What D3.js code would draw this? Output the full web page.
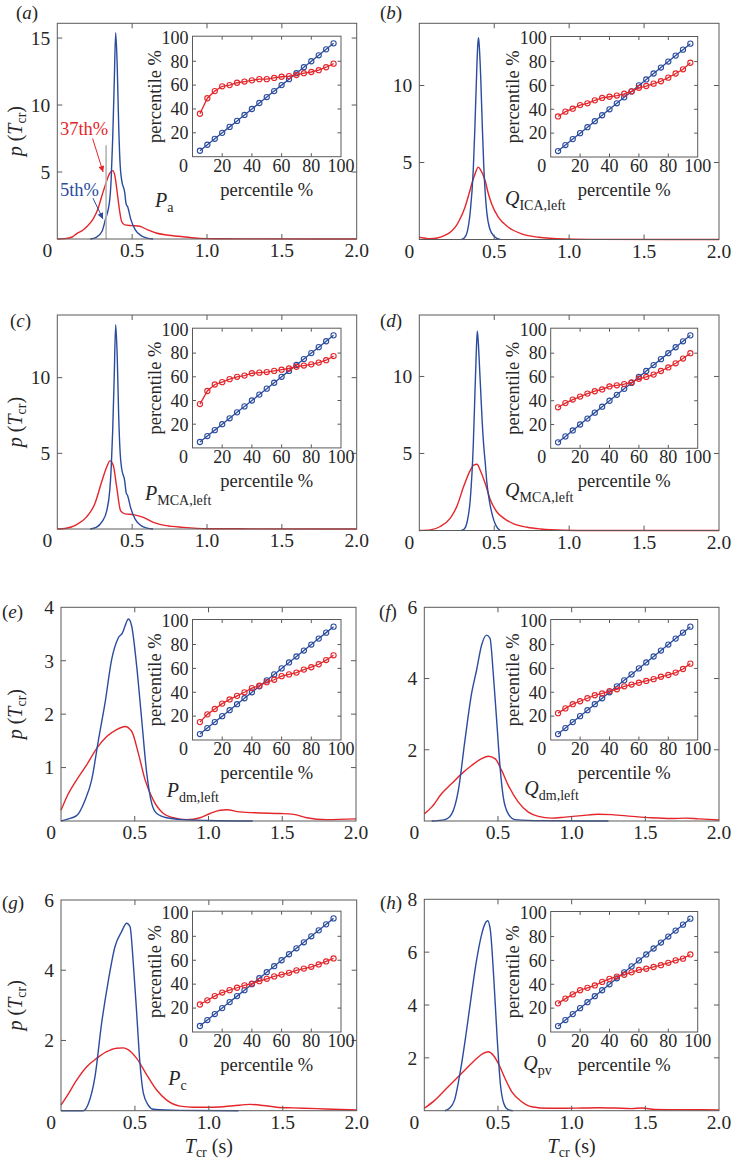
<!DOCTYPE html>
<html><head><meta charset="utf-8">
<script src="https://cdn.jsdelivr.net/npm/d3@7/dist/d3.min.js"></script>
<style>
body{margin:0;background:#fff;}
svg{display:block;}
text{font-family:"Liberation Serif","Times New Roman","DejaVu Serif",serif;fill:#262626;}
</style></head><body>
<script>
// ---------------- DATA ----------------
const tTicks = [0.5, 1.0, 1.5, 2.0];
const tTickLabels = ["0.5", "1.0", "1.5", "2.0"];
const pctTicks = [20, 40, 60, 80, 100];

const yTicksA = [5, 10, 15];
const yTicksB = [5, 10];
const yTicksC = [5, 10];
const yTicksD = [5, 10];
const yTicksE = [1, 2, 3, 4];
const yTicksF = [2, 4, 6];
const yTicksG = [2, 4, 6];
const yTicksH = [2, 4, 6, 8];

// density curves p(Tcr): [Tcr (s), p]
const blueA = [[0.22,0],[0.26,0.12],[0.30,0.6],[0.32,1.4],[0.35,2.9],[0.36,4.5],[0.37,7.5],[0.38,11.5],[0.39,15.4],[0.40,13.0],[0.41,8.5],[0.42,5.5],[0.43,4.4],[0.45,3.5],[0.46,2.6],[0.47,2.4],[0.49,1.5],[0.52,0.7],[0.56,0.25],[0.60,0.07],[0.64,0]];
const redA = [[0,0],[0.05,0.03],[0.10,0.15],[0.13,0.4],[0.17,0.65],[0.20,0.95],[0.24,1.5],[0.27,2.2],[0.30,3.3],[0.32,4.0],[0.35,4.9],[0.37,5.1],[0.385,4.7],[0.40,3.5],[0.41,2.6],[0.43,1.3],[0.45,1.05],[0.50,1.0],[0.55,0.95],[0.60,0.7],[0.66,0.45],[0.73,0.3],[0.84,0.17],[0.95,0.05],[1.06,0.02],[1.3,0.01],[2.0,0]];
const blueB = [[0.28,0],[0.30,0.1],[0.32,0.5],[0.34,1.8],[0.36,4.5],[0.37,7],[0.38,10],[0.39,12.6],[0.395,13.1],[0.40,12.6],[0.41,10.5],[0.42,7.5],[0.43,4.8],[0.44,3],[0.45,1.8],[0.47,0.7],[0.50,0.2],[0.54,0]];
const redB = [[0,0.15],[0.03,0.1],[0.07,0.05],[0.12,0.1],[0.17,0.26],[0.21,0.5],[0.24,0.8],[0.27,1.3],[0.305,2.1],[0.33,2.9],[0.35,3.6],[0.37,4.2],[0.394,4.7],[0.41,4.5],[0.44,3.8],[0.46,3.0],[0.483,2.3],[0.527,1.45],[0.594,0.8],[0.683,0.37],[0.794,0.15],[0.97,0.04],[1.2,0.01],[2.0,0]];
const blueC = [[0.22,0],[0.26,0.1],[0.30,0.5],[0.33,1.2],[0.35,2.5],[0.36,4],[0.37,6.5],[0.38,10],[0.39,13.5],[0.40,11.5],[0.41,7.5],[0.42,5],[0.43,4],[0.45,3.2],[0.46,2.4],[0.47,2.2],[0.49,1.4],[0.52,0.65],[0.56,0.22],[0.60,0.06],[0.64,0]];
const redC = [[0,0],[0.06,0.05],[0.13,0.29],[0.196,0.8],[0.25,1.65],[0.296,3.1],[0.33,4.1],[0.352,4.5],[0.374,4.2],[0.397,2.75],[0.423,1.2],[0.452,1.0],[0.508,0.95],[0.575,0.77],[0.642,0.44],[0.73,0.22],[0.84,0.11],[1.0,0.02],[1.3,0.01],[2.0,0]];
const blueD = [[0.28,0],[0.30,0.1],[0.32,0.6],[0.34,2.0],[0.36,5.5],[0.37,8.5],[0.38,11.5],[0.387,12.95],[0.395,12],[0.40,11],[0.41,9],[0.42,7],[0.43,5.5],[0.44,4.4],[0.45,3.2],[0.46,2.4],[0.47,1.8],[0.49,0.9],[0.51,0.35],[0.54,0]];
const redD = [[0,0],[0.074,0.04],[0.14,0.26],[0.207,0.8],[0.25,1.55],[0.296,2.85],[0.34,3.9],[0.363,4.25],[0.385,4.3],[0.407,3.9],[0.44,3.05],[0.474,2.0],[0.518,1.2],[0.563,0.8],[0.63,0.43],[0.72,0.21],[0.81,0.1],[0.877,0.05],[1.05,0],[2.0,0]];
const blueE = [[0,0],[0.039,0.03],[0.106,0.1],[0.163,0.39],[0.208,0.77],[0.254,1.52],[0.298,2.2],[0.344,3.03],[0.389,3.43],[0.418,3.53],[0.434,3.65],[0.457,3.78],[0.479,3.65],[0.513,2.9],[0.547,1.9],[0.581,0.9],[0.615,0.33],[0.649,0.14],[0.717,0.06],[0.83,0.025],[1.0,0.01],[1.3,0]];
const redE = [[0,0.2],[0.039,0.45],[0.106,0.77],[0.174,1.05],[0.242,1.36],[0.31,1.58],[0.377,1.71],[0.434,1.77],[0.479,1.68],[0.524,1.27],[0.57,0.77],[0.626,0.39],[0.694,0.14],[0.762,0.06],[0.852,0.025],[0.943,0.06],[1.01,0.14],[1.078,0.2],[1.124,0.21],[1.21,0.17],[1.35,0.15],[1.486,0.14],[1.576,0.125],[1.666,0.06],[1.8,0.025],[2.0,0.04]];
const blueF = [[0.05,0],[0.14,0.04],[0.186,0.2],[0.231,0.86],[0.276,2.27],[0.321,3.58],[0.355,4.24],[0.389,4.94],[0.423,5.22],[0.446,5.13],[0.468,4.14],[0.491,2.83],[0.514,1.52],[0.536,0.67],[0.57,0.2],[0.616,0.04],[0.8,0.01],[1.25,0]];
const redF = [[0,0.2],[0.05,0.39],[0.118,0.77],[0.186,1.05],[0.254,1.33],[0.321,1.56],[0.389,1.75],[0.434,1.82],[0.48,1.75],[0.525,1.42],[0.57,1.0],[0.638,0.53],[0.706,0.25],[0.774,0.13],[0.864,0.08],[0.955,0.11],[1.068,0.15],[1.18,0.19],[1.27,0.18],[1.41,0.13],[1.54,0.09],[1.68,0.07],[1.77,0.08],[1.86,0.06],[2.0,0.03]];
const blueG = [[0,0],[0.15,0],[0.185,0.2],[0.23,0.97],[0.275,2.5],[0.32,3.7],[0.365,4.67],[0.41,5.1],[0.444,5.34],[0.467,5.24],[0.489,4.2],[0.512,2.77],[0.534,1.35],[0.557,0.5],[0.59,0.16],[0.625,0.04],[0.8,0.01],[1.2,0]];
const redG = [[0,0.16],[0.038,0.4],[0.106,0.87],[0.174,1.25],[0.241,1.49],[0.309,1.68],[0.376,1.78],[0.42,1.79],[0.444,1.76],[0.512,1.49],[0.58,1.02],[0.647,0.59],[0.715,0.3],[0.805,0.13],[0.895,0.1],[1.03,0.1],[1.165,0.14],[1.278,0.18],[1.368,0.15],[1.459,0.1],[1.57,0.08],[1.73,0.06],[1.84,0.04],[2.0,0.02]];
const blueH = [[0.14,0],[0.171,0.09],[0.205,0.4],[0.25,1.67],[0.284,2.93],[0.318,4.3],[0.352,5.6],[0.386,6.6],[0.413,7.09],[0.43,7.19],[0.448,6.84],[0.471,5.07],[0.494,2.8],[0.516,1.03],[0.539,0.28],[0.566,0.05],[0.6,0]];
const redH = [[0,0.09],[0.072,0.4],[0.14,0.78],[0.208,1.16],[0.276,1.54],[0.344,1.92],[0.4,2.17],[0.434,2.23],[0.468,2.1],[0.502,1.79],[0.548,1.22],[0.593,0.72],[0.661,0.34],[0.729,0.15],[0.842,0.09],[0.955,0.09],[1.068,0.1],[1.18,0.11],[1.294,0.1],[1.407,0.08],[1.475,0.1],[1.566,0.05],[1.747,0.04],[2.0,0.03]];

// inset percentile-percentile data
const percentile = [5,10,15,20,25,30,35,40,45,50,55,60,65,70,75,80,85,90,95];
const bluePct = [5,10,15,20,25,30,35,40,45,50,55,60,65,70,75,80,85,90,95];
const redPctA = [36,49,55,59,60,62,63,64,65,65,66,67,67.5,68.5,70,71,72.5,75,78];
const redPctB = [34,38,40.5,43.5,45,47.5,49.5,50.5,51.5,53,55,58,59.5,61.5,63.5,66.5,70,73.5,79];
const redPctC = [37,48,53.5,55.5,58,60,61,63,63.5,64,65,66,67,68.5,69.5,70.5,72,74,77.5];
const redPctD = [34.5,38,41,43.5,46,48,49.5,52,53,54,55.5,58.5,60,62,65,68,71.5,75.5,80];
const redPctE = [15,21.5,26,30.5,34,37,40,43.5,45.5,48.5,50.5,53.5,55,56.5,59,61,63.5,67,71];
const redPctF = [22.5,26.5,30,32.5,35,37.5,39,41,42.5,45,46.5,48,49.5,51,53,54.5,56.5,59.5,64];
const redPctG = [23,26.5,30,33,35,37,39,40.5,42.5,44.5,46.5,48,49.5,51.5,53,54.5,56.5,59,61.5];
const redPctH = [24,28,31.5,35,37,39,42,44.5,46.5,48,50,52,53,54.5,56,58,60,61.5,65];

// annotations in panel (a) (data coords)
const markerLine = [[0.326,0],[0.326,7.0]];
const arrow37 = [[0.236,7.5],[0.306,5.0]];
const arrow5 = [[0.238,3.05],[0.305,1.5]];
const label37 = {text:"37th%", at:[0.018,7.75]};
const label5 = {text:"5th%", at:[0.018,3.2]};

// ---------------- LAYOUT ----------------
const RED = "#e4262b", BLUE = "#2b4c9e", AX = "#5a5a5a", GREY = "#b4b4b4";
const W = 735, H = 1162;
const panels = [
 {id:"a",L:57.3,R:356.7,T:23.3,B:239,ymax:16.1,yt:yTicksA,blue:blueA,red:redA,pct:redPctA,iL:192.5,iR:341,iB:156.7,iT:37.4,lab:[16,19],nm:["P","a"],nmAt:[0.653,2.4],ylab:true,xlab:false},
 {id:"b",L:419.3,R:719,T:23.3,B:239.5,ymax:14.04,yt:yTicksB,blue:blueB,red:redB,pct:redPctB,iL:550.7,iR:697.7,iB:157,iT:37.7,lab:[380,19],nm:["Q","ICA,left"],nmAt:[0.572,2.24],ylab:false,xlab:false},
 {id:"c",L:57.3,R:356.7,T:315,B:529,ymax:14.14,yt:yTicksC,blue:blueC,red:redC,pct:redPctC,iL:192.5,iR:341,iB:447.9,iT:329.4,lab:[10,327],nm:["P","MCA,left"],nmAt:[0.586,1.92],ylab:true,xlab:false},
 {id:"d",L:419.3,R:719,T:315,B:530.5,ymax:13.99,yt:yTicksD,blue:blueD,red:redD,pct:redPctD,iL:550.7,iR:697.7,iB:448.3,iT:329.4,lab:[380,327],nm:["Q","MCA,left"],nmAt:[0.572,2.18],ylab:false,xlab:false},
 {id:"e",L:61,R:356,T:607.3,B:821,ymax:4,yt:yTicksE,blue:blueE,red:redE,pct:redPctE,iL:192.5,iR:341,iB:740,iT:620.7,lab:[2,618],nm:["P","dm,left"],nmAt:[0.717,0.456],ylab:true,xlab:false},
 {id:"f",L:424.3,R:719,T:607.3,B:821,ymax:6,yt:yTicksF,blue:blueF,red:redF,pct:redPctF,iL:550.7,iR:697.7,iB:740,iT:620.7,lab:[379,618],nm:["Q","dm,left"],nmAt:[0.679,0.73],ylab:false,xlab:false},
 {id:"g",L:61,R:356.7,T:900,B:1110.7,ymax:6,yt:yTicksG,blue:blueG,red:redG,pct:redPctG,iL:192.5,iR:341,iB:1032,iT:912.4,lab:[2,909],nm:["P","c"],nmAt:[0.726,0.73],ylab:true,xlab:true},
 {id:"h",L:424.3,R:719,T:899.3,B:1110.7,ymax:8,yt:yTicksH,blue:blueH,red:redH,pct:redPctH,iL:550.7,iR:697.7,iB:1032,iT:912.7,lab:[380,909],nm:["Q","pv"],nmAt:[0.672,1.54],ylab:false,xlab:true}
];

const svg = d3.select("body").append("svg").attr("width", W).attr("height", H)
  .attr("font-family", "'Liberation Serif','Times New Roman','DejaVu Serif',serif");
const defs = svg.append("defs");
[["arRed",RED],["arBlue",BLUE]].forEach(([id,c]) => {
  defs.append("marker").attr("id",id).attr("viewBox","0 0 10 10").attr("refX",10).attr("refY",5)
    .attr("markerWidth",7).attr("markerHeight",6).attr("orient","auto").attr("markerUnits","userSpaceOnUse")
    .append("path").attr("d","M0,0 L10,5 L0,10 Z").attr("fill",c);
});

const MAINFS = 19.5, INFS = 18;

function drawPanel(p) {
  const g = svg.append("g");
  const x = d3.scaleLinear().domain([0, 2]).range([p.L, p.R]);
  const y = d3.scaleLinear().domain([0, p.ymax]).range([p.B, p.T]);

  // curves
  const line = d3.line().x(d => x(d[0])).y(d => y(d[1])).curve(d3.curveMonotoneX);
  g.append("path").datum(p.red).attr("d", line).attr("fill","none").attr("stroke",RED).attr("stroke-width",1.4);
  g.append("path").datum(p.blue).attr("d", line).attr("fill","none").attr("stroke",BLUE).attr("stroke-width",1.4);

  if (p.id === "a") {
    const ll = d3.line().x(d => x(d[0])).y(d => y(d[1]));
    g.append("path").datum(markerLine).attr("d", ll).attr("stroke",GREY).attr("stroke-width",1.6).attr("fill","none");
    g.append("path").datum(arrow37).attr("d", ll).attr("stroke",RED).attr("stroke-width",1).attr("fill","none").attr("marker-end","url(#arRed)");
    g.append("path").datum(arrow5).attr("d", ll).attr("stroke",BLUE).attr("stroke-width",1).attr("fill","none").attr("marker-end","url(#arBlue)");
    g.append("text").attr("x",x(label37.at[0])).attr("y",y(label37.at[1])).attr("font-size",18.5).style("fill",RED).text(label37.text);
    g.append("text").attr("x",x(label5.at[0])).attr("y",y(label5.at[1])).attr("font-size",18.5).style("fill",BLUE).text(label5.text);
  }

  // axes box
  g.append("rect").attr("x",p.L).attr("y",p.T).attr("width",p.R-p.L).attr("height",p.B-p.T)
    .attr("fill","none").attr("stroke",AX).attr("stroke-width",1);
  const tl = 5;
  tTicks.forEach((t,i) => {
    const xx = x(t);
    if (t < 2) {
      g.append("line").attr("x1",xx).attr("x2",xx).attr("y1",p.B).attr("y2",p.B-tl).attr("stroke",AX);
      g.append("line").attr("x1",xx).attr("x2",xx).attr("y1",p.T).attr("y2",p.T+tl).attr("stroke",AX);
    }
    g.append("text").attr("x",xx).attr("y",p.B+18).attr("text-anchor","middle").attr("font-size",MAINFS).text(tTickLabels[i]);
  });
  g.append("text").attr("x",p.L-10).attr("y",p.B+18).attr("text-anchor","middle").attr("font-size",MAINFS).text("0");
  p.yt.forEach(v => {
    const yy = y(v);
    if (v < p.ymax - 0.05) {
      g.append("line").attr("x1",p.L).attr("x2",p.L+tl).attr("y1",yy).attr("y2",yy).attr("stroke",AX);
      g.append("line").attr("x1",p.R).attr("x2",p.R-tl).attr("y1",yy).attr("y2",yy).attr("stroke",AX);
    }
    g.append("text").attr("x",p.L-7).attr("y",yy).attr("dy","0.35em").attr("text-anchor","end").attr("font-size",MAINFS).text(v);
  });

  // panel label
  const lt = g.append("text").attr("x",p.lab[0]).attr("y",p.lab[1]).attr("font-size",19);
  lt.append("tspan").text("(");
  lt.append("tspan").attr("font-style","italic").text(p.id);
  lt.append("tspan").text(")");

  // y label
  if (p.ylab) {
    const cy = (p.T + p.B) / 2;
    const yl = g.append("text").attr("transform",`translate(15,${cy}) rotate(-90)`).attr("text-anchor","middle").attr("dy","0.35em").attr("font-size",20);
    yl.append("tspan").attr("font-style","italic").text("p");
    yl.append("tspan").text(" (");
    yl.append("tspan").attr("font-style","italic").text("T");
    yl.append("tspan").attr("font-size",14).attr("dy","4").text("cr");
    yl.append("tspan").attr("dy","-4").text(")");
  }
  if (p.xlab) {
    const xl = g.append("text").attr("x",(p.L+p.R)/2).attr("y",p.B+42).attr("text-anchor","middle").attr("font-size",20);
    xl.append("tspan").attr("font-style","italic").text("T");
    xl.append("tspan").attr("font-size",14).attr("dy","4").text("cr");
    xl.append("tspan").attr("dy","-4").text(" (s)");
  }

  // curve name
  const nt = g.append("text").attr("x",x(p.nmAt[0])).attr("y",y(p.nmAt[1])).attr("font-size",20);
  nt.append("tspan").attr("font-style","italic").text(p.nm[0]);
  nt.append("tspan").attr("font-size",14).attr("dy","5").text(p.nm[1]);

  // ---------- inset ----------
  const ix = d3.scaleLinear().domain([0,100]).range([p.iL, p.iR]);
  const iy = d3.scaleLinear().domain([0,100]).range([p.iB, p.iT]);
  const boxTop = iy(100) - 1.2;
  g.append("rect").attr("x",p.iL).attr("y",boxTop).attr("width",p.iR-p.iL).attr("height",p.iB-boxTop)
    .attr("fill","#fff").attr("stroke",AX).attr("stroke-width",1);
  const itl = 3.5;
  pctTicks.forEach(v => {
    const xx = ix(v), yy = iy(v);
    if (v < 100) {
      g.append("line").attr("x1",xx).attr("x2",xx).attr("y1",p.iB).attr("y2",p.iB-itl).attr("stroke",AX);
      g.append("line").attr("x1",xx).attr("x2",xx).attr("y1",boxTop).attr("y2",boxTop+itl).attr("stroke",AX);
      g.append("line").attr("x1",p.iL).attr("x2",p.iL+itl).attr("y1",yy).attr("y2",yy).attr("stroke",AX);
      g.append("line").attr("x1",p.iR).attr("x2",p.iR-itl).attr("y1",yy).attr("y2",yy).attr("stroke",AX);
    }
    g.append("text").attr("x",xx).attr("y",p.iB+15).attr("text-anchor","middle").attr("font-size",INFS).text(v);
    g.append("text").attr("x",p.iL-4).attr("y",yy).attr("dy","0.35em").attr("text-anchor","end").attr("font-size",INFS).text(v);
  });
  g.append("text").attr("x",p.iL-9).attr("y",p.iB+15).attr("text-anchor","middle").attr("font-size",INFS).text("0");
  g.append("text").attr("x",(p.iL+p.iR)/2).attr("y",p.iB+39).attr("text-anchor","middle").attr("font-size",INFS+0.5).text("percentile %");
  g.append("text").attr("transform",`translate(${p.iL-38},${(p.iB+boxTop)/2}) rotate(-90)`).attr("text-anchor","middle")
    .attr("dy","0.35em").attr("font-size",INFS+0.5).text("percentile %");

  const iline = d3.line().x(d => ix(d[0])).y(d => iy(d[1]));
  [[bluePct,BLUE],[p.pct,RED]].forEach(([vals,c]) => {
    const pts = percentile.map((q,i) => [q, vals[i]]);
    g.append("path").datum(pts).attr("d", iline).attr("fill","none").attr("stroke",c).attr("stroke-width",1.3);
    g.selectAll(null).data(pts).enter().append("circle")
      .attr("cx",d => ix(d[0])).attr("cy",d => iy(d[1])).attr("r",2.6)
      .attr("fill","none").attr("stroke",c).attr("stroke-width",1.1);
  });
}
panels.forEach(drawPanel);
</script>
</body></html>
